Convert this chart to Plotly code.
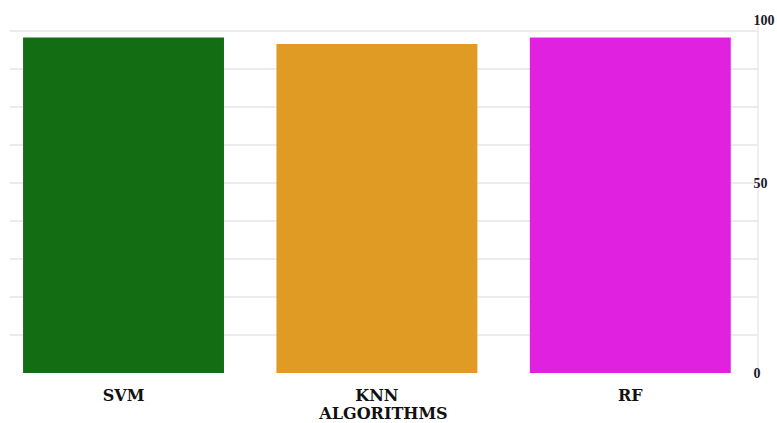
import plotly.graph_objects as go

algorithms = ["SVM", "KNN", "RF"]
accuracy = [88.3, 86.6, 88.3]
bar_colors = ["#136E13", "#E09B24", "#E022E0"]
y_tick_vals = [0, 50, 92.9]
y_tick_text = ["0", "50", "100"]

fig = go.Figure(
    go.Bar(
        x=algorithms,
        y=accuracy,
        marker=dict(color=bar_colors, line=dict(width=0)),
        width=0.793,
    )
)

fig.update_layout(
    width=777,
    height=423,
    margin=dict(l=10, r=20, t=20, b=50),
    paper_bgcolor="white",
    plot_bgcolor="white",
    showlegend=False,
    font=dict(family="DejaVu Serif", color="#111111"),
)

fig.update_xaxes(
    range=[-0.448, 2.5],
    showgrid=False,
    automargin=False,
    tickfont=dict(family="DejaVu Serif", size=16, color="#111111", weight="bold"),
    ticklabelstandoff=11,
    title=dict(
        text="<b>ALGORITHMS</b>",
        font=dict(family="DejaVu Serif", size=16, color="#111111"),
    ),
    ticks="",
)

fig.update_yaxes(
    range=[0, 92.9],
    side="right",
    automargin=False,
    tickvals=y_tick_vals,
    ticktext=y_tick_text,
    tickfont=dict(family="Liberation Serif", size=14, color="#1a1a2a", weight="bold"),
    ticklabelstandoff=-8,
    showgrid=True,
    gridcolor="#ebebeb",
    gridwidth=1.5,
    minor=dict(dtick=10, showgrid=True, gridcolor="#ebebeb", gridwidth=1.5),
    showline=True,
    linecolor="#eeeeee",
    linewidth=1.5,
    zeroline=False,
    ticks="",
)

fig.write_html("out.html")
